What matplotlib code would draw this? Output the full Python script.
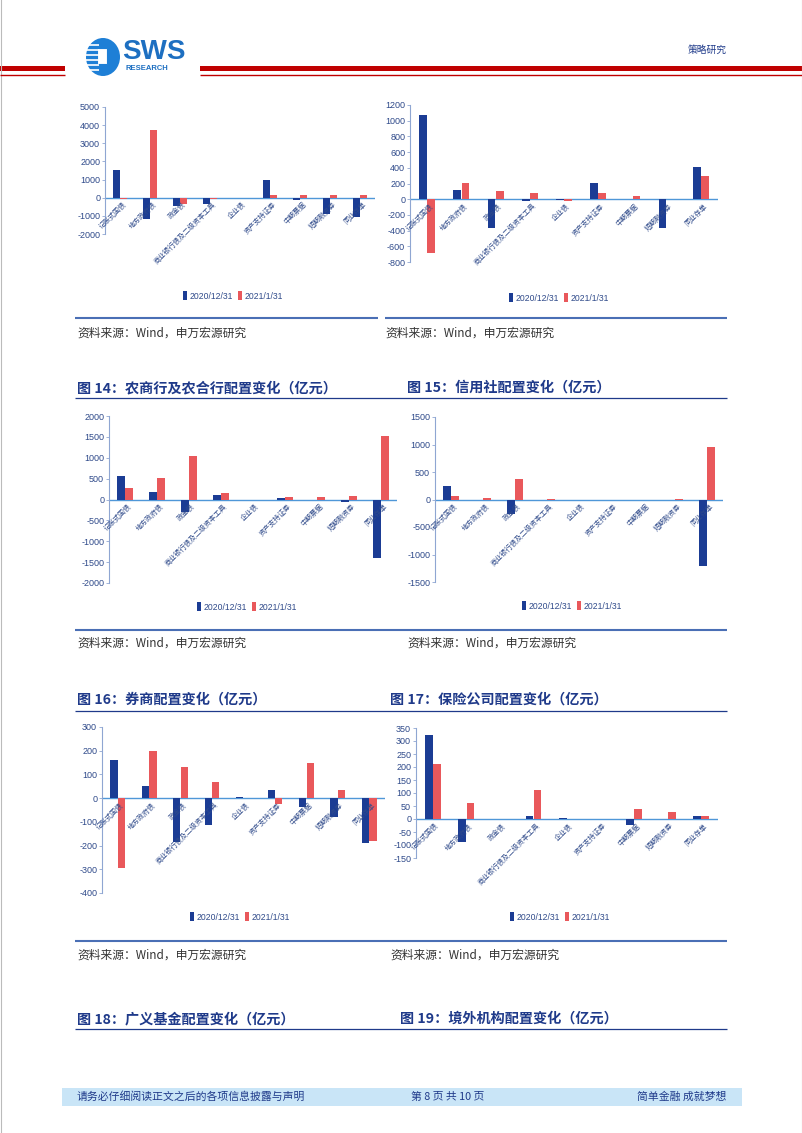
import matplotlib.pyplot as plt
import numpy as np
from matplotlib.patches import Rectangle, Ellipse

plt.rcParams['font.family'] = ['Noto Sans CJK SC', 'DejaVu Sans']
plt.rcParams['axes.unicode_minus'] = False

W, H = 802, 1133

categories = ['记账式国债', '地方政府债', '政金债', '商业银行债及二级资本工具', '企业债',
              '资产支持证券', '中期票据', '短期融资券', '同业存单']
series_names = ['2020/12/31', '2021/1/31']

# two charts continued from the previous page
top_left_dec = [1500, -1200, -450, -350, 0, 950, -100, -900, -1050]
top_left_jan = [-50, 3750, -350, -80, 0, 150, 150, 150, 150]
top_right_dec = [1070, 115, -370, -20, -15, 210, 0, -370, 405]
top_right_jan = [-690, 205, 100, 85, -20, 75, 35, 0, 300]
# fig 14 / 15
nongshang_dec = [570, 190, -300, 110, 0, 40, 0, -70, -1390]
nongshang_jan = [280, 520, 1040, 160, 0, 60, 60, 90, 1510]
xinyongshe_dec = [240, -10, -260, 0, 0, 0, 0, 0, -1210]
xinyongshe_jan = [65, 20, 375, 15, 0, 0, 0, 15, 960]
# fig 16 / 17
quanshang_dec = [160, 52, -185, -115, 3, 35, -38, -80, -190]
quanshang_jan = [-295, 200, 133, 68, 0, -25, 150, 33, -180]
baoxian_dec = [325, -90, 0, 13, 3, 0, -22, 0, 10]
baoxian_jan = [210, 60, 0, 112, 0, 0, 40, 28, 13]

titles = ['图 14：农商行及农合行配置变化（亿元）', '图 15：信用社配置变化（亿元）',
          '图 16：券商配置变化（亿元）', '图 17：保险公司配置变化（亿元）',
          '图 18：广义基金配置变化（亿元）', '图 19：境外机构配置变化（亿元）']
source_text = '资料来源：Wind，申万宏源研究'

BLUE = '#1B3C94'
RED = '#E9585B'
ZERO = '#4F97D8'
AXIS = '#8FA6D2'
TICK = '#2F4A8A'
NAVY = '#1F3A8A'


def box(x0, y0, x1, y1):
    return [x0 / W, 1 - y1 / H, (x1 - x0) / W, (y1 - y0) / H]


fig = plt.figure(figsize=(W / 100, H / 100), dpi=100)
page = fig.add_axes([0, 0, 1, 1])
page.set_xlim(0, W)
page.set_ylim(H, 0)
page.axis('off')


def hline(y, x0, x1, color, lw):
    page.plot([x0, x1], [y, y], color=color, lw=lw, solid_capstyle='butt')


# page border
page.plot([0.5, 0.5], [0, H], color='#BBBBBB', lw=0.8)
page.plot([W - 0.5, W - 0.5], [0, H], color='#BBBBBB', lw=0.8)

# header
page.add_patch(Rectangle((0, 66), 65, 5, color='#C00000', lw=0))
page.add_patch(Rectangle((200, 66), 602, 5, color='#C00000', lw=0))
hline(74.5, 0, 65, '#C00000', 1.0)
hline(74.5, 200, 802, '#C00000', 1.0)
page.add_patch(Ellipse((103, 57), 34, 38, color='#1E7FD6', lw=0))
for yy in [45, 50, 55, 60, 65, 70]:
    hline(yy, 86, 99, 'white', 1.2)
page.add_patch(Rectangle((97, 48), 10, 16, facecolor='white', edgecolor='#1E7FD6', lw=0.8))
page.text(122, 52, 'SWS', fontsize=20, fontweight='bold', color='#1D6FC1',
          va='center', ha='left', family='Liberation Sans')
page.text(125, 68, 'RESEARCH', fontsize=5.5, fontweight='bold', color='#1D6FC1',
          va='center', ha='left', family='Liberation Sans')
page.text(727, 50, '策略研究', fontsize=7, color=NAVY, ha='right', va='center')

# row decorations
hline(318, 75, 378, '#4A6FB5', 1.5)
hline(318, 385, 727, '#4A6FB5', 1.5)
hline(630, 75, 727, '#4A6FB5', 1.5)
hline(941, 75, 727, '#4A6FB5', 1.5)
for x, y in [(77, 333), (385, 333), (77, 643), (407, 643), (77, 955), (390, 955)]:
    page.text(x, y, source_text, fontsize=8.5, color='#333333', ha='left', va='center')

title_pos = [(77, 388), (407, 388), (77, 700), (390, 700), (77, 1019), (400, 1019)]
for (x, y), t in zip(title_pos, titles):
    page.text(x, y, t, fontsize=10.2, fontweight='bold', color=NAVY, ha='left', va='center')
for y in [398, 711, 1029]:
    hline(y, 75, 727, NAVY, 0.9)

# footer
page.add_patch(Rectangle((62, 1088), 680, 18, color='#C9E5F7', lw=0))
page.text(77, 1097, '请务必仔细阅读正文之后的各项信息披露与声明', fontsize=7.8, color=NAVY,
          ha='left', va='center')
page.text(448, 1097, '第 8 页 共 10 页', fontsize=7.8, color=NAVY, ha='center', va='center')
page.text(726, 1097, '简单金融 成就梦想', fontsize=7.8, color=NAVY, ha='right', va='center')


def draw_chart(rect, dec, jan, ylo, yhi, step, legend_xy):
    ax = fig.add_axes(box(*rect))
    ax.patch.set_alpha(0)
    x = np.arange(len(categories))
    ax.bar(x - 0.12, dec, width=0.23, color=BLUE, zorder=2, label=series_names[0])
    ax.bar(x + 0.12, jan, width=0.23, color=RED, zorder=2, label=series_names[1])
    ax.set_xlim(-0.5, len(categories) - 0.5)
    ax.set_ylim(ylo, yhi)
    ax.set_yticks(np.arange(ylo, yhi + step, step))
    ax.axhline(0, color=ZERO, lw=1, zorder=1)
    for s in ['top', 'right', 'bottom']:
        ax.spines[s].set_visible(False)
    ax.spines['left'].set_color(AXIS)
    ax.spines['left'].set_linewidth(0.8)
    ax.set_xticks([])
    ax.tick_params(axis='y', length=2, width=0.6, color=AXIS, labelsize=6.5,
                   labelcolor=TICK, pad=1.5)
    for lab in ax.get_yticklabels():
        lab.set_fontfamily('Liberation Sans')
    for i, c in enumerate(categories):
        ax.annotate(c, xy=(i, 0), xytext=(1.5, -2), textcoords='offset points',
                    rotation=45, ha='right', va='top', rotation_mode='anchor',
                    fontsize=5, color=TICK, zorder=3)
    lx, ly = legend_xy
    leg = ax.legend(loc='center', bbox_to_anchor=(lx / W, 1 - ly / H),
                    bbox_transform=fig.transFigure, ncol=2, frameon=False,
                    fontsize=6.2, handlelength=0.45, handleheight=1.1,
                    handletextpad=0.3, columnspacing=0.6)
    for t in leg.get_texts():
        t.set_color(TICK)
        t.set_fontfamily('Liberation Sans')
    return ax


draw_chart((105, 107, 375, 234), top_left_dec, top_left_jan, -2000, 5000, 1000, (233, 296))
draw_chart((410, 105, 718, 262), top_right_dec, top_right_jan, -800, 1200, 200, (559, 298))
draw_chart((109, 416, 397, 583), nongshang_dec, nongshang_jan, -2000, 2000, 500, (247, 607))
draw_chart((435, 417, 723, 582), xinyongshe_dec, xinyongshe_jan, -1500, 1500, 500, (572, 606))
draw_chart((102, 727, 385, 893), quanshang_dec, quanshang_jan, -400, 300, 100, (240, 917))
draw_chart((416, 728, 718, 858), baoxian_dec, baoxian_jan, -150, 350, 50, (560, 917))

fig.savefig('out.png', dpi=100)
